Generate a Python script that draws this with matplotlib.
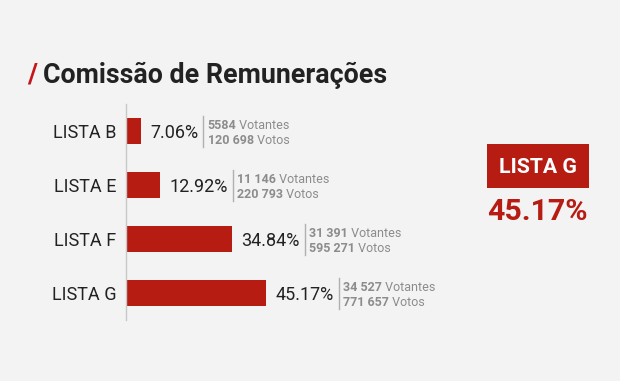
import matplotlib
matplotlib.use("Agg")
import matplotlib.pyplot as plt
import matplotlib.transforms as mtransforms
from matplotlib.lines import Line2D

# ---- data ----
categories = ["LISTA B", "LISTA E", "LISTA F", "LISTA G"]
percentages = [7.06, 12.92, 34.84, 45.17]
votantes = ["5584", "11 146", "31 391", "34 527"]
votos = ["120 698", "220 793", "595 271", "771 657"]
title = "Comissão de Remunerações"
winner = "LISTA G"
winner_pct = "45.17%"

BG = "#f3f3f3"
RED = "#b71c13"
DARK = "#222222"
GRAY = "#8c8c8c"
FONT = "Roboto"

W, H = 620, 381
fig = plt.figure(figsize=(W / 100, H / 100), dpi=100, facecolor=BG)

# axes in pixel layout
ax_left, ax_right, ax_top, ax_bot = 125.5, 470, 104, 320
ax = fig.add_axes([ax_left / W, 1 - ax_bot / H, (ax_right - ax_left) / W, (ax_bot - ax_top) / H])
ax.set_facecolor(BG)
ypos = list(range(len(categories)))
ax.barh(ypos, percentages, height=0.49, color=RED, edgecolor="none")
ax.set_ylim(len(categories) - 0.5, -0.5)
ax.set_xlim(2.35, 2.35 + (ax_right - ax_left) / 3.29)
for s in ["top", "right", "bottom"]:
    ax.spines[s].set_visible(False)
ax.spines["left"].set_color("#c8c8c8")
ax.spines["left"].set_linewidth(1)
ax.set_xticks([])
ax.set_yticks(ypos)
ax.set_yticklabels(categories, fontsize=13, color=DARK, family=FONT)
ax.tick_params(axis="y", length=0, pad=6.5)

ident = mtransforms.IdentityTransform()

def px(x, y):
    return x, H - y

fig.canvas.draw()
renderer = fig.canvas.get_renderer()

for i, (p, vt, vo) in enumerate(zip(percentages, votantes, votos)):
    xd, yd = ax.transData.transform((p, i))
    yc = H - yd
    t = fig.text(*px(xd + 9, yc + 6.8), f"{p:.2f}%", transform=ident, fontsize=13,
                 color=DARK, family=FONT, ha="left", va="baseline")
    bb = t.get_window_extent(renderer)
    sx = bb.x1 + 5
    fig.add_artist(Line2D([sx, sx], [H - (yc - 15), H - (yc + 16)], transform=ident,
                          color="#b0b0b0", lw=1))
    tx = sx + 4.5
    for line_y, num, word in [(yc - 2.3, vt, " Votantes"), (yc + 13, vo, " Votos")]:
        n = fig.text(*px(tx, line_y), num, transform=ident, fontsize=9, color=GRAY,
                     family=FONT, fontweight="bold", ha="left", va="baseline")
        nb = n.get_window_extent(renderer)
        fig.text(nb.x1, H - line_y, word, transform=ident, fontsize=9, color=GRAY,
                 family=FONT, ha="left", va="baseline")

# title
slash = fig.text(*px(27, 83), "/", transform=ident, fontsize=19.3, color="#c4161c",
                 family=FONT, fontweight="bold", ha="left", va="baseline")
sb = slash.get_window_extent(renderer)
fig.text(sb.x1 + 6, H - 83, title, transform=ident, fontsize=19.3, color=DARK,
         family=FONT, fontweight="bold", ha="left", va="baseline")

# winner box
bx0, bx1, by0, by1 = 486.5, 589, 144, 188
fig.add_artist(plt.Rectangle((bx0, H - by1), bx1 - bx0, by1 - by0, transform=ident,
                             facecolor=RED, edgecolor="none"))
fig.text((bx0 + bx1) / 2, H - 173.3, winner, transform=ident, fontsize=15.3, color="white",
         family=FONT, fontweight="bold", ha="center", va="baseline")
fig.text((bx0 + bx1) / 2, H - 220, winner_pct, transform=ident, fontsize=21.8, color=RED,
         family=FONT, fontweight="bold", ha="center", va="baseline")

fig.savefig("out.png", dpi=100, facecolor=BG)
